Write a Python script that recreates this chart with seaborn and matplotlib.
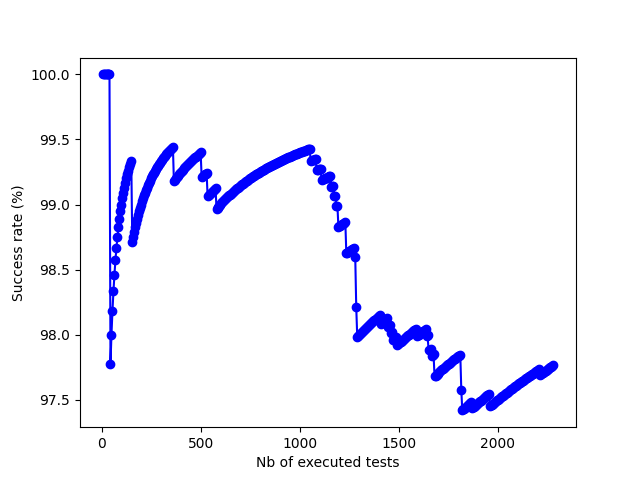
import matplotlib

matplotlib.use("Agg")
import matplotlib.pyplot as plt
import numpy as np
import pandas as pd
import seaborn as sns

# tests are counted in batches of 5; the rate is taken after each batch
BATCH = 5
LAST_TEST = 2280

# batch end (nb of executed tests) where new failures showed up
fail_at = [45, 155, 365, 505, 535, 580, 1055, 1085, 1110, 1160, 1175, 1185,
           1195, 1235, 1280, 1285, 1290, 1410, 1445, 1460, 1470, 1490, 1590,
           1640, 1650, 1665, 1680, 1815, 1820, 1870, 1960, 2210]
# how many tests failed in that batch
fail_count = [1, 1, 1, 1, 1, 1, 1, 1, 1, 1, 1, 1,
              2, 3, 1, 5, 3, 1, 1, 1, 1, 1, 1,
              1, 2, 1, 3, 5, 3, 1, 2, 1]

n_tests = np.arange(BATCH, LAST_TEST + 1, BATCH)
fails = pd.Series(fail_count, index=fail_at).reindex(n_tests, fill_value=0).cumsum()
df = pd.DataFrame({
    "tests": n_tests,
    "rate": (n_tests - fails.values) / n_tests * 100,
})

fig, ax = plt.subplots(figsize=(6.4, 4.8), dpi=100)
sns.lineplot(data=df, x="tests", y="rate", estimator=None, sort=False,
             color="blue", marker="o", markersize=6,
             markeredgecolor="blue", markeredgewidth=1.0, linewidth=1.5, ax=ax)
ax.set_xlabel("Nb of executed tests")
ax.set_ylabel("Success rate (%)")

fig.savefig("out.png", dpi=100)
